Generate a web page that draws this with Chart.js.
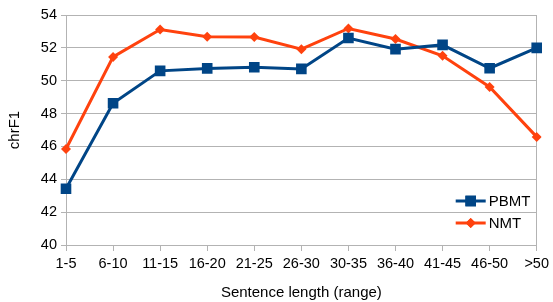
<!DOCTYPE html>
<html><head><meta charset="utf-8">
<script src="https://cdn.jsdelivr.net/npm/chart.js@4/dist/chart.umd.min.js"></script>
<style>html,body{margin:0;padding:0;background:#fff}#w{width:553px;height:302px}</style>
</head><body><div id="w"><canvas id="c"></canvas></div>
<script>
const categories = ["1-5","6-10","11-15","16-20","21-25","26-30","30-35","36-40","41-45","46-50",">50"];
const pbmt = [43.42, 48.63, 50.60, 50.75, 50.82, 50.72, 52.60, 51.92, 52.18, 50.76, 52.00];
const nmt  = [45.84, 51.45, 53.12, 52.68, 52.66, 51.92, 53.18, 52.54, 51.52, 49.62, 46.58];
const yTicks = [40,42,44,46,48,50,52,54];
const seriesNames = ["PBMT","NMT"];
const colors = ["#004586","#ff420e"];
const FONT = "'Liberation Sans', Arial, sans-serif";
const grid = "#b3b3b3";

const legendPlugin = {
  id: 'inlegend',
  afterDraw(chart) {
    const ctx = chart.ctx;
    const area = chart.chartArea;
    chart.data.datasets.forEach((ds, i) => {
      const y = area.bottom - 44 + i * 22;
      const x0 = area.right - 81, x1 = area.right - 51;
      ctx.save();
      ctx.strokeStyle = ds.borderColor; ctx.lineWidth = 3;
      ctx.beginPath(); ctx.moveTo(x0, y); ctx.lineTo(x1, y); ctx.stroke();
      ctx.fillStyle = ds.backgroundColor;
      ctx.beginPath();
      Chart.helpers.drawPoint(ctx, {pointStyle: ds.pointStyle, radius: ds.pointRadius, borderWidth: 0}, (x0 + x1) / 2, y);
      ctx.fill();
      ctx.fillStyle = '#000'; ctx.font = "15px " + FONT; ctx.textBaseline = 'middle'; ctx.textAlign = 'left';
      ctx.fillText(ds.label, x1 + 3, y + 1);
      ctx.restore();
    });
  }
};

new Chart(document.getElementById('c'), {
  type: 'line',
  data: {
    labels: categories,
    datasets: [
      {label: seriesNames[0], data: pbmt, borderColor: colors[0], backgroundColor: colors[0], borderWidth: 3,
       pointStyle: 'rect', pointRadius: 7.5, pointHoverRadius: 7.5, pointBorderWidth: 0, tension: 0},
      {label: seriesNames[1], data: nmt, borderColor: colors[1], backgroundColor: colors[1], borderWidth: 3,
       pointStyle: 'rectRot', pointRadius: 5, pointHoverRadius: 5, pointBorderWidth: 0, tension: 0}
    ]
  },
  options: {
    responsive: true, maintainAspectRatio: false, animation: false,
    layout: {padding: {top: 15, right: 15, left: 0, bottom: 0}},
    plugins: {legend: {display: false}, tooltip: {enabled: false}},
    scales: {
      x: {
        offset: false,
        grid: {
          color: c => c.index === categories.length - 1 ? grid : 'transparent',
          tickColor: grid, tickLength: 6, drawOnChartArea: true, lineWidth: 1
        },
        border: {color: grid, width: 1},
        ticks: {color: '#000', font: {family: FONT, size: 14.5}, padding: 4, maxRotation: 0, autoSkip: false},
        title: {display: true, text: 'Sentence length (range)', color: '#000', font: {family: FONT, size: 15}, padding: {top: 8, bottom: 0}},
        afterFit: s => { s.height = 57; }
      },
      y: {
        min: 40, max: 54,
        afterBuildTicks: s => { s.ticks = yTicks.map(v => ({value: v})); },
        grid: {color: grid, tickColor: grid, tickLength: 5, lineWidth: 1},
        border: {color: grid, width: 1},
        ticks: {color: '#000', font: {family: FONT, size: 14.5}, padding: 4},
        title: {display: true, text: 'chrF1', color: '#000', font: {family: FONT, size: 15}, padding: {top: 6, bottom: 6}},
        afterFit: s => { s.width = 66; }
      }
    }
  },
  plugins: [legendPlugin]
});
</script></body></html>
